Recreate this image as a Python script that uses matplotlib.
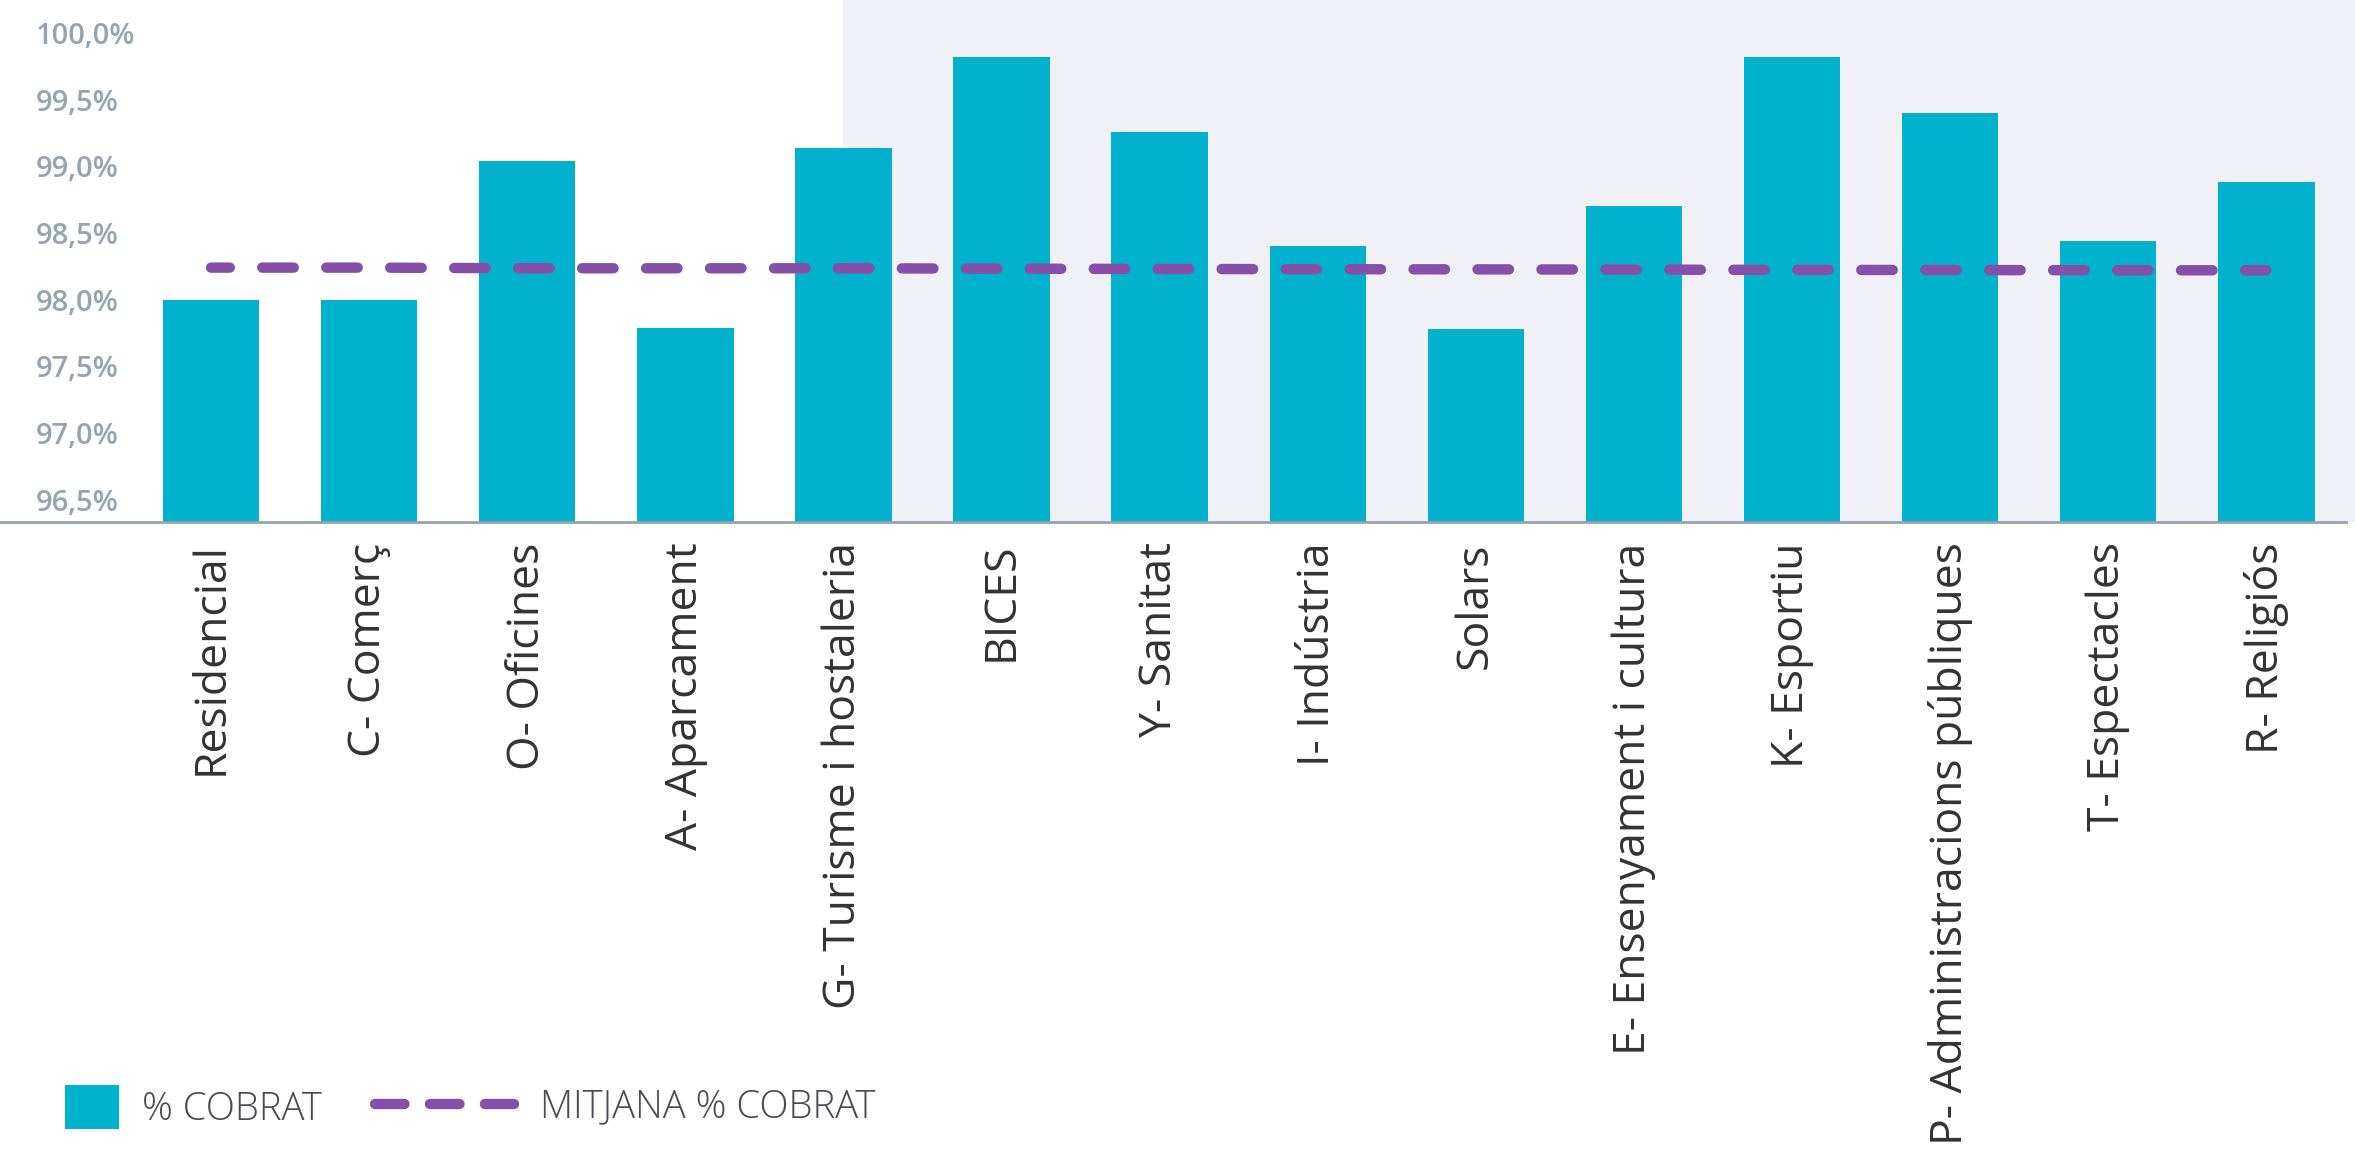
import numpy as np
import matplotlib
matplotlib.use("Agg")
import matplotlib.pyplot as plt
from matplotlib.lines import Line2D
from matplotlib.patches import Patch

categories = ["Residencial", "C- Comerç", "O- Oficines", "A- Aparcament",
              "G- Turisme i hostaleria", "BICES", "Y- Sanitat", "I- Indústria",
              "Solars", "E- Ensenyament i cultura", "K- Esportiu",
              "P- Administracions públiques", "T- Espectacles", "R- Religiós"]
pct_cobrat = [98.00, 98.00, 99.04, 97.79, 99.14, 99.82, 99.26, 98.40,
              97.78, 98.70, 99.82, 99.40, 98.44, 98.88]
mitjana = [98.24, 98.24, 98.235, 98.235, 98.235, 98.232, 98.23, 98.228,
           98.227, 98.225, 98.223, 98.222, 98.22, 98.22]
yticks = [96.5, 97.0, 97.5, 98.0, 98.5, 99.0, 99.5, 100.0]

bar_color = "#00B2CE"
line_color = "#8650A8"
shade_color = "#F0F0F7"

plt.rcParams['font.family'] = ['Open Sans', 'DejaVu Sans']

W, H = 2355, 1168
fig = plt.figure(figsize=(W / 100, H / 100), dpi=100)
ax = fig.add_axes([0, 1 - 521.5 / H, 2346 / W, 521.5 / H])
ax.set_facecolor("none")

x = np.arange(len(categories))
ax.set_xlim(-1.335, 13.504)
ax.set_ylim(96.335, 100.248)

# shaded band from the Turisme bar to the right edge of the picture
ax.axvspan(4, 13.56, color=shade_color, zorder=0, clip_on=False, lw=0)

bars = ax.bar(x, pct_cobrat, width=0.61, color=bar_color, zorder=2)
ax.plot(x, mitjana, color=line_color, lw=7.5, solid_capstyle="round",
        dash_capstyle="round", linestyle=(1.22, (3.02, 3.12)), zorder=3)

ax.set_yticks(yticks)
ax.set_yticklabels([f"{v:.1f}%".replace(".", ",") for v in yticks])
ax.tick_params(axis="y", length=0, pad=-26, labelsize=21, labelcolor="#94A5B0")
for t in ax.get_yticklabels():
    t.set_horizontalalignment("left")
    t.set_fontweight("semibold")

ax.set_xticks(x)
ax.set_xticklabels(categories, rotation=90)
ax.tick_params(axis="x", length=0, pad=15, labelsize=32, labelcolor="#333333")

for s in ["top", "right", "left"]:
    ax.spines[s].set_visible(False)
ax.spines["bottom"].set_color("#94A3AD")
ax.spines["bottom"].set_linewidth(2)
ax.spines["bottom"].set_zorder(4)

leg_y = 1 - 1107 / H
em = 38.2
prop = {"size": 27.5, "weight": "light"}
h1 = Patch(facecolor=bar_color, edgecolor="none")
fig.legend([h1], ["% COBRAT"], loc="center left",
           bbox_to_anchor=(65 / W, leg_y), frameon=False, prop=prop,
           handlelength=54 / em, handleheight=54 / em, handletextpad=0.6,
           borderpad=0, borderaxespad=0, labelcolor="#4A4A55")
h2 = Line2D([0], [0], color=line_color, lw=7.5, dash_capstyle="round",
            linestyle=(0, (2.83, 2.45)))
fig.legend([h2], ["MITJANA % COBRAT"], loc="center left",
           bbox_to_anchor=(375 / W, leg_y), frameon=False, prop=prop,
           handlelength=139 / em, handletextpad=0.68,
           borderpad=0, borderaxespad=0, labelcolor="#4A4A55")

fig.savefig("out.png", dpi=100, facecolor="white")
